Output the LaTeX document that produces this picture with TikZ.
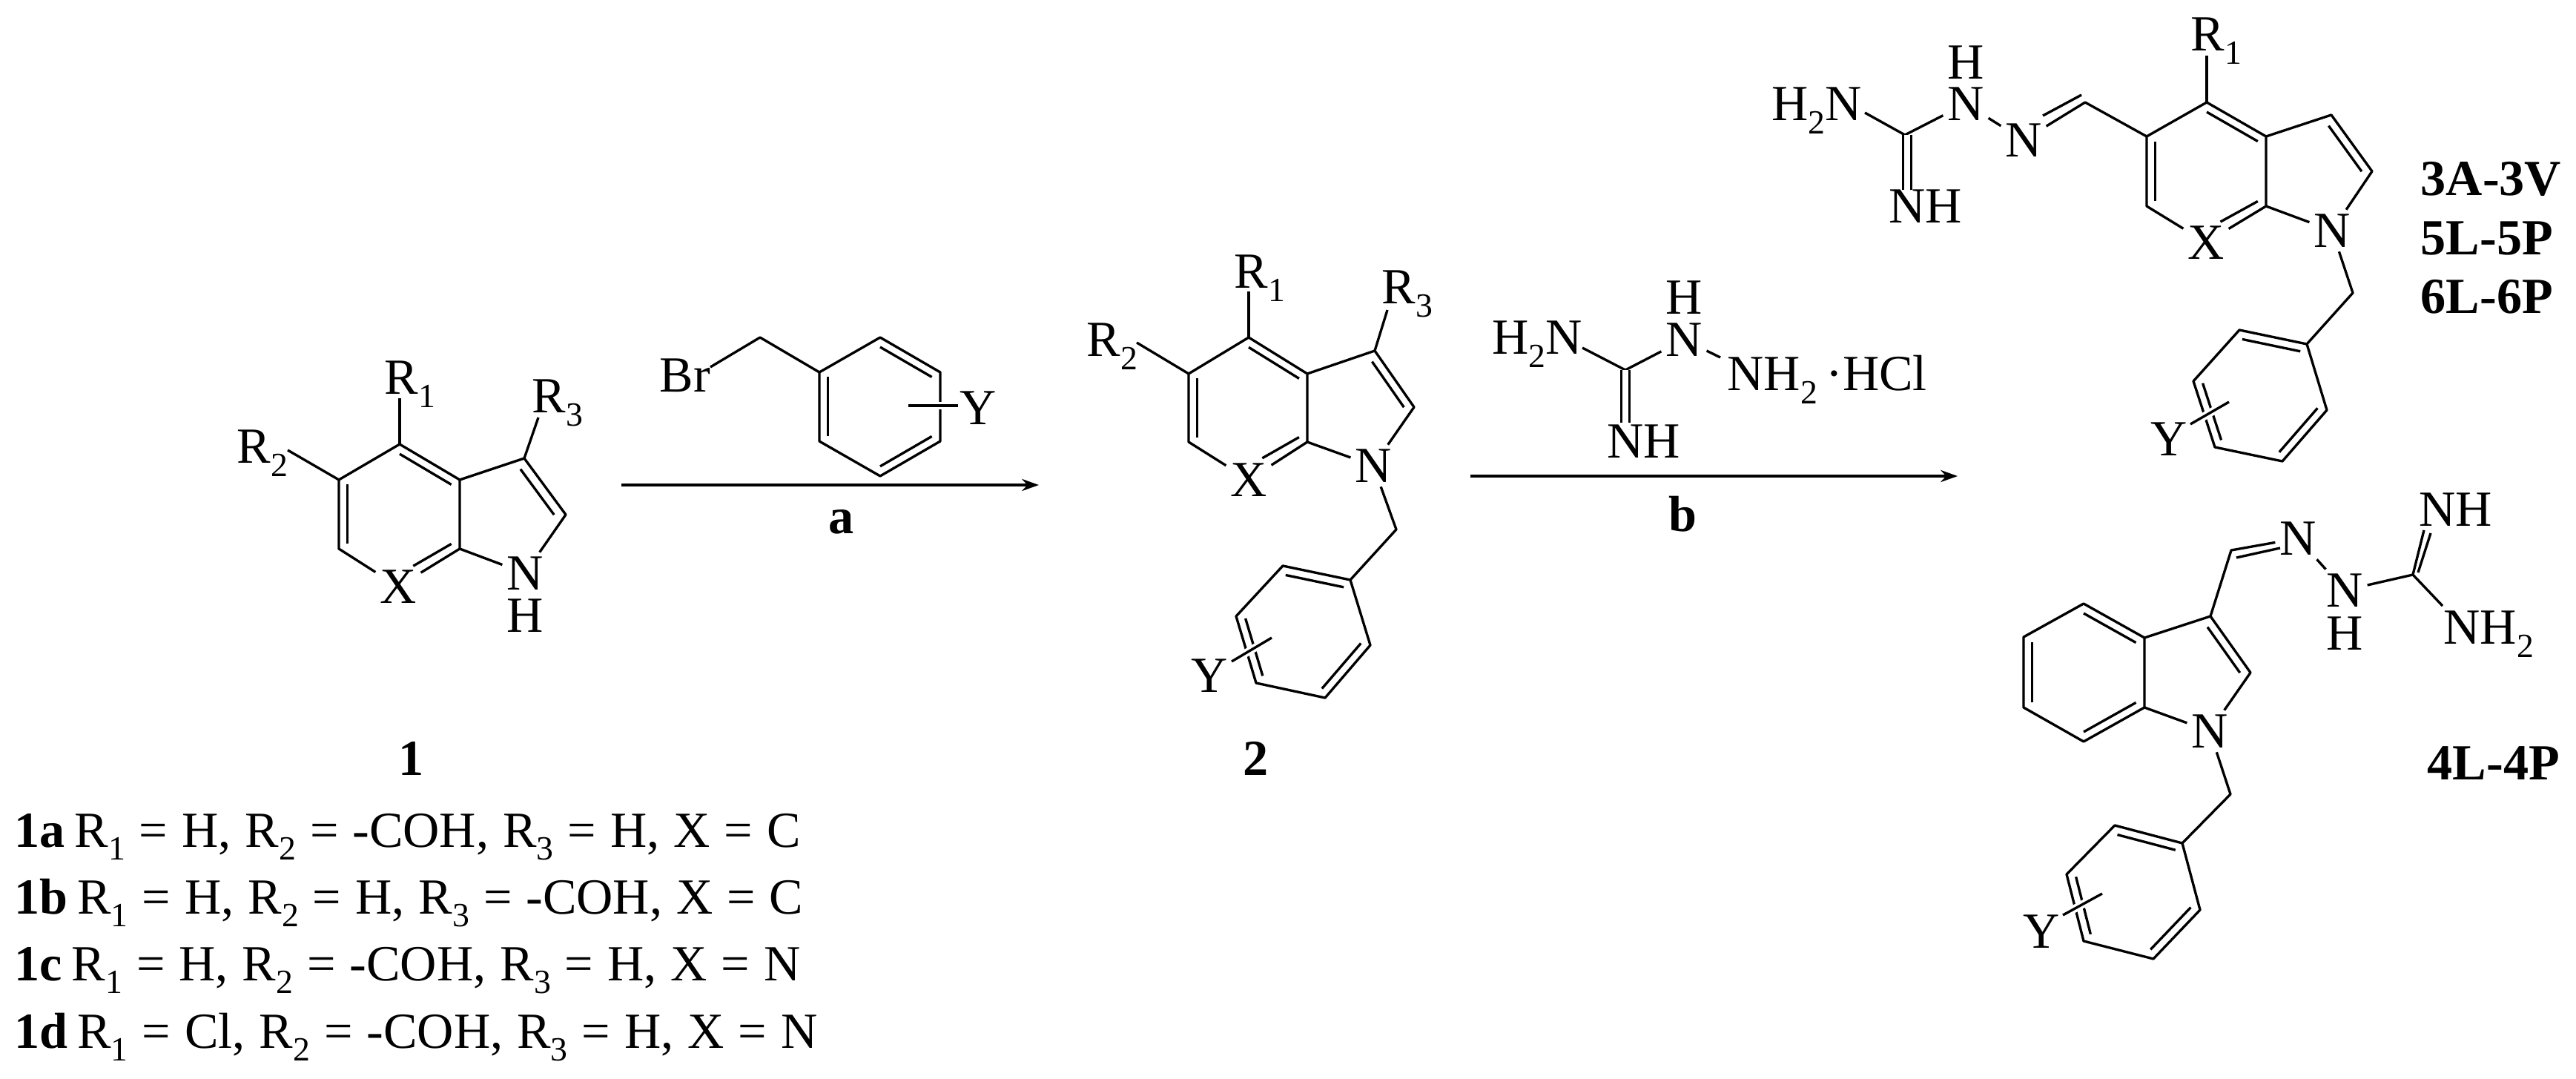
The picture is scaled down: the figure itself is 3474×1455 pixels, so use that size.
\documentclass[tikz,border=0pt]{standalone}
\usepackage{fontspec}
\setmainfont{Liberation Serif}
\usepackage{tikz}
\usetikzlibrary{calc,arrows.meta}
\newcommand{\sbs}[1]{\raisebox{-.25em}{\fontsize{13pt}{13pt}\selectfont #1}}
\newcommand{\inb}[4][.14]{\draw[bond] ($(#2)!#1!(#4)$) -- ($(#3)!#1!(#4)$);}

\begin{document}
\begin{tikzpicture}[x=0.01cm,y=-0.01cm,
  every node/.style={font=\fontsize{19.4pt}{22pt}\selectfont},
  bond/.style={line width=.95pt, line join=round},
  dbl/.style={bond, double, double distance=2.1pt},
  xbond/.style={bond, shorten >=6pt},
  halo/.style={bond, preaction={draw, white, line width=3pt}},
  rxn/.style={line width=1pt, -{Stealth[length=6.5pt,width=4.6pt]}},
  atom/.style={inner sep=1.5pt},
  lab/.style={inner sep=0pt, anchor=base west},
  row/.style={lab, execute at begin node={\spaceskip=5.4pt}},
  ttl/.style={inner sep=0pt, anchor=base}]
\useasboundingbox (0,0) rectangle (3474,1455);

\coordinate (a1) at (539,599);
\coordinate (a2) at (620,647);
\coordinate (a3) at (620,740);
\coordinate (a4) at (539,787);
\coordinate (a5) at (457,740);
\coordinate (a6) at (457,647);
\coordinate (a7) at (707,618);
\coordinate (a8) at (763,694);
\coordinate (ac) at (539,693);
\coordinate (ad) at (680,695);
\coordinate (ar1) at (539,537);
\coordinate (ar2) at (388,607);
\coordinate (ar3) at (726,563);
\node[atom] (ax) at (537,791) {X};
\node[atom] (an) at (708,773) {N};
\node[atom] (ah) at (708,830) {H};
\node[lab] (al1) at (518,532) {R\sbs{1}};
\node[lab] (al2) at (319,625) {R\sbs{2}};
\node[lab] (al3) at (717,557) {R\sbs{3}};
\draw[bond] (ax) -- (a5) -- (a6) -- (a1) -- (a2) -- (a3) -- (ax);
\draw[bond] (a2) -- (a7) -- (a8) -- (an) -- (a3);
\draw[bond] (a1) -- (ar1);
\draw[bond] (a6) -- (ar2);
\draw[bond] (a7) -- (ar3);
\inb{a1}{a2}{ac}
\inb{a5}{a6}{ac}
\inb[.19]{a7}{a8}{ad}
\draw[xbond] ($(a3)!.14!(ac)$) -- ($(a4)!.14!(ac)$);

\coordinate (r1) at (1105,502);
\coordinate (r2) at (1187,455);
\coordinate (r3) at (1268,502);
\coordinate (r4) at (1268,595);
\coordinate (r5) at (1187,642);
\coordinate (r6) at (1105,595);
\coordinate (rc) at (1187,548);
\coordinate (r7) at (1025,455);
\coordinate (ry1) at (1225,547);
\coordinate (ry2) at (1292,547);
\coordinate (rb) at (958,495);
\node[lab] (rbr) at (889,529) {Br};
\node[atom] (ry) at (1319,550) {Y};
\draw[bond] (rb) -- (r7) -- (r1) -- (r2) -- (r3) -- (r4) -- (r5) -- (r6) -- (r1);
\inb{r2}{r3}{rc}
\inb{r4}{r5}{rc}
\inb{r6}{r1}{rc}
\draw[halo] (ry1) -- (ry2);

\coordinate (s1) at (838,654);
\coordinate (e1) at (1401,654);
\draw[rxn] (s1) -- (e1);
\node[ttl] (la) at (1135,720) {\textbf{a}};
\node[ttl] (l1) at (555,1045) {\textbf{1}};

\node[row] (t1) at (19,1142) {\textbf{1a}\hspace{-1.8pt} R\sbs{1} = H, R\sbs{2} = -COH, R\sbs{3} = H, X = C};
\node[row] (t2) at (19,1232) {\textbf{1b}\hspace{-1.8pt} R\sbs{1} = H, R\sbs{2} = H, R\sbs{3} = -COH, X = C};
\node[row] (t3) at (19,1322) {\textbf{1c}\hspace{-1.8pt} R\sbs{1} = H, R\sbs{2} = -COH, R\sbs{3} = H, X = N};
\node[row] (t4) at (19,1413) {\textbf{1d}\hspace{-1.8pt} R\sbs{1} = Cl, R\sbs{2} = -COH, R\sbs{3} = H, X = N};

\coordinate (b1) at (1684,455);
\coordinate (b2) at (1763,504);
\coordinate (b3) at (1763,596);
\coordinate (b4) at (1684,641);
\coordinate (b5) at (1603,596);
\coordinate (b6) at (1603,504);
\coordinate (b7) at (1854,473);
\coordinate (b8) at (1907,549);
\coordinate (b9) at (1883,714);
\coordinate (bc) at (1684,550);
\coordinate (bd) at (1835,550);
\coordinate (br1) at (1684,393);
\coordinate (br2) at (1533,462);
\coordinate (br3) at (1871,418);
\node[atom] (bx) at (1684,647) {X};
\node[atom] (bn) at (1852,628) {N};
\node[lab] (bl1) at (1664,389) {R\sbs{1}};
\node[lab] (bl2) at (1465,481) {R\sbs{2}};
\node[lab] (bl3) at (1863,410) {R\sbs{3}};
\draw[bond] (bx) -- (b5) -- (b6) -- (b1) -- (b2) -- (b3) -- (bx);
\draw[bond] (b2) -- (b7) -- (b8) -- (bn) -- (b3);
\draw[bond] (b1) -- (br1);
\draw[bond] (b6) -- (br2);
\draw[bond] (b7) -- (br3);
\inb{b1}{b2}{bc}
\inb{b5}{b6}{bc}
\inb[.19]{b7}{b8}{bd}
\draw[xbond] ($(b3)!.14!(bc)$) -- ($(b4)!.14!(bc)$);
\coordinate (p1) at (1821,782);
\coordinate (p2) at (1730,763);
\coordinate (p3) at (1667,831);
\coordinate (p4) at (1694,921);
\coordinate (p5) at (1787,941);
\coordinate (p6) at (1848,870);
\coordinate (pc) at (1757,852);
\coordinate (py1) at (1661,892);
\coordinate (py2) at (1715,860);
\node[atom] (py) at (1631,911) {Y};
\draw[bond] (bn) -- (b9) -- (p1) -- (p2) -- (p3) -- (p4) -- (p5) -- (p6) -- (p1);
\inb{p1}{p2}{pc}
\inb{p3}{p4}{pc}
\inb{p5}{p6}{pc}
\draw[halo] (py1) -- (py2);
\node[ttl] (l2) at (1694,1045) {\textbf{2}};

\coordinate (g1) at (2192,499);
\coordinate (g2) at (2134,469);
\coordinate (g3) at (2192,570);
\coordinate (g4) at (2320,482);
\node[lab] (gh2n) at (2012,478) {H\sbs{2}N};
\node[atom] (gn) at (2271,458) {N};
\node[atom] (gh) at (2271,401) {H};
\node[lab] (gnh2) at (2329,527) {NH\sbs{2}\,·HCl};
\node[lab] (gnh) at (2167,618) {NH};
\draw[bond] (g2) -- (g1) -- (gn);
\draw[bond] (gn) -- (g4);
\draw[dbl] (g1) -- (g3);

\coordinate (s2) at (1983,642);
\coordinate (e2) at (2640,642);
\draw[rxn] (s2) -- (e2);
\node[ttl] (lb) at (2269,717) {\textbf{b}};

\coordinate (c1) at (2976,138);
\coordinate (c2) at (3056,184);
\coordinate (c3) at (3056,278);
\coordinate (c4) at (2976,322);
\coordinate (c5) at (2895,278);
\coordinate (c6) at (2895,184);
\coordinate (c7) at (3144,155);
\coordinate (c8) at (3199,231);
\coordinate (c9) at (3173,395);
\coordinate (cc) at (2976,231);
\coordinate (cd) at (3125,232);
\coordinate (cr1) at (2976,75);
\coordinate (c10) at (2812,138);
\coordinate (c11) at (2807,128);
\coordinate (c12) at (2755,156);
\coordinate (c13) at (2569,182);
\coordinate (c14) at (2515,152);
\coordinate (c15) at (2572,256);
\coordinate (c16) at (2572,182);
\node[atom] (cx) at (2975,327) {X};
\node[atom] (cn) at (3145,311) {N};
\node[lab] (cl1) at (2954,69) {R\sbs{1}};
\node[atom] (cn2) at (2729,189) {N};
\node[atom] (cn3) at (2651,140) {N};
\node[atom] (ch) at (2651,84) {H};
\node[lab] (ch2n) at (2389,163) {H\sbs{2}N};
\node[lab] (cnh) at (2547,301) {NH};
\draw[bond] (cx) -- (c5) -- (c6) -- (c1) -- (c2) -- (c3) -- (cx);
\draw[bond] (c2) -- (c7) -- (c8) -- (cn) -- (c3);
\draw[bond] (c1) -- (cr1);
\draw[bond] (c6) -- (c10) -- (cn2);
\draw[bond] (c11) -- (c12);
\draw[bond] (cn2) -- (cn3) -- (c13) -- (c14);
\draw[dbl] (c16) -- (c15);
\inb{c1}{c2}{cc}
\inb{c5}{c6}{cc}
\inb[.19]{c7}{c8}{cd}
\draw[xbond] ($(c3)!.14!(cc)$) -- ($(c4)!.14!(cc)$);
\coordinate (q1) at (3111,464);
\coordinate (q2) at (3020,445);
\coordinate (q3) at (2958,514);
\coordinate (q4) at (2987,603);
\coordinate (q5) at (3078,622);
\coordinate (q6) at (3138,553);
\coordinate (qc) at (3048,534);
\coordinate (qy1) at (2954,572);
\coordinate (qy2) at (3006,542);
\node[atom] (qy) at (2925,592) {Y};
\draw[bond] (cn) -- (c9) -- (q1) -- (q2) -- (q3) -- (q4) -- (q5) -- (q6) -- (q1);
\inb{q1}{q2}{qc}
\inb{q3}{q4}{qc}
\inb{q5}{q6}{qc}
\draw[halo] (qy1) -- (qy2);
\node[lab] (n1) at (3264,264) {\textbf{3A-3V}};
\node[lab] (n2) at (3264,344) {\textbf{5L-5P}};
\node[lab] (n3) at (3264,423) {\textbf{6L-6P}};

\coordinate (d1) at (2810,814);
\coordinate (d2) at (2892,860);
\coordinate (d3) at (2892,954);
\coordinate (d4) at (2810,1000);
\coordinate (d5) at (2729,954);
\coordinate (d6) at (2729,859);
\coordinate (d7) at (2981,831);
\coordinate (d8) at (3035,907);
\coordinate (d9) at (3009,742);
\coordinate (dc) at (2810,907);
\coordinate (dd) at (2960,908);
\coordinate (d10) at (3016,752);
\coordinate (d11) at (3075,739);
\coordinate (d12) at (3254,775);
\coordinate (d13) at (3269,715);
\coordinate (d14) at (3261,772);
\coordinate (d15) at (3278,719);
\coordinate (d16) at (3294,817);
\coordinate (d17) at (3008,1071);
\node[atom] (dn) at (2980,986) {N};
\node[atom] (dn2) at (3099,726) {N};
\node[atom] (dn3) at (3162,796) {N};
\node[atom] (dh) at (3162,854) {H};
\node[lab] (dnh) at (3262,709) {NH};
\node[lab] (dnh2) at (3295,869) {NH\sbs{2}};
\draw[bond] (d1) -- (d2) -- (d3) -- (d4) -- (d5) -- (d6) -- cycle;
\draw[bond] (d2) -- (d7) -- (d8) -- (dn) -- (d3);
\draw[bond] (d7) -- (d9) -- (dn2) -- (dn3) -- (d12) -- (d13);
\draw[bond] (d10) -- (d11);
\draw[bond] (d14) -- (d15);
\draw[bond] (d12) -- (d16);
\inb{d1}{d2}{dc}
\inb{d3}{d4}{dc}
\inb{d5}{d6}{dc}
\inb[.19]{d7}{d8}{dd}
\coordinate (f1) at (2943,1137);
\coordinate (f2) at (2852,1113);
\coordinate (f3) at (2787,1179);
\coordinate (f4) at (2810,1269);
\coordinate (f5) at (2904,1293);
\coordinate (f6) at (2967,1227);
\coordinate (fc) at (2877,1203);
\coordinate (fy1) at (2782,1234);
\coordinate (fy2) at (2835,1205);
\node[atom] (fy) at (2753,1256) {Y};
\draw[bond] (dn) -- (d17) -- (f1) -- (f2) -- (f3) -- (f4) -- (f5) -- (f6) -- (f1);
\inb{f1}{f2}{fc}
\inb{f3}{f4}{fc}
\inb{f5}{f6}{fc}
\draw[halo] (fy1) -- (fy2);
\node[lab] (n4) at (3273,1051) {\textbf{4L-4P}};

\end{tikzpicture}
\end{document}
